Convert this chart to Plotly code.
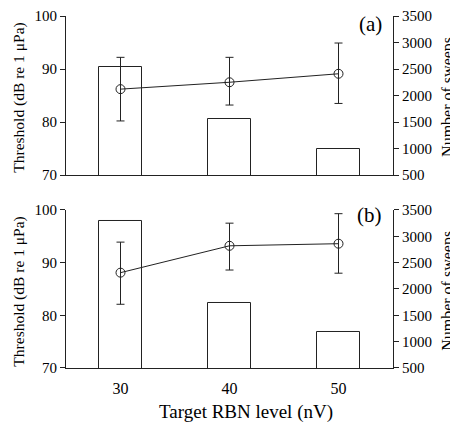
import plotly.graph_objects as go

# Data
levels = [30, 40, 50]
tick_labels = ["30", "40", "50"]

# Panel (a)
sweeps_a = [2530, 1550, 990]
thr_a = [86.2, 87.5, 89.1]
thr_a_up = [6.0, 4.7, 5.8]
thr_a_down = [6.0, 4.3, 5.6]

# Panel (b)
sweeps_b = [3300, 1730, 1190]
thr_b = [88.1, 93.2, 93.6]
thr_b_up = [5.8, 4.3, 5.7]
thr_b_down = [6.0, 4.6, 5.6]

FONT = "Liberation Serif"
AX = "#222222"
FS = 15

fig = go.Figure()

def add_panel(sweeps, thr, up, down, xa, ya_bar, ya_line):
    fig.add_trace(go.Bar(
        x=levels, y=sweeps, width=4,
        marker=dict(color="white", line=dict(color=AX, width=1)),
        xaxis=xa, yaxis=ya_bar, showlegend=False))
    fig.add_trace(go.Scatter(
        x=levels, y=thr, mode="lines+markers",
        line=dict(color=AX, width=1),
        marker=dict(symbol="circle-open", size=9, color=AX, line=dict(width=1)),
        error_y=dict(type="data", symmetric=False, array=up, arrayminus=down,
                     color=AX, thickness=1, width=4),
        xaxis=xa, yaxis=ya_line, showlegend=False))

add_panel(sweeps_a, thr_a, thr_a_up, thr_a_down, "x", "y", "y3")
add_panel(sweeps_b, thr_b, thr_b_up, thr_b_down, "x2", "y2", "y4")

top_dom = [0.5483, 1.0]
bot_dom = [0.0, 0.4489]

tf = dict(family=FONT, size=FS, color="black")

common_x = dict(range=[25, 55], showline=True, linecolor=AX, linewidth=1,
                ticks="outside", ticklen=6, tickcolor="rgba(0,0,0,0)",
                showgrid=False, zeroline=False, automargin=False,
                tickvals=levels, ticktext=tick_labels,
                tickfont=dict(family=FONT, size=16, color="black"))
sweep_ax = dict(range=[500, 3500], side="right", showline=True, linecolor=AX,
                linewidth=1, ticks="outside", ticklen=5, tickcolor=AX,
                tickvals=[500, 1000, 1500, 2000, 2500, 3000, 3500],
                showgrid=False, zeroline=False, automargin=False, tickfont=tf)
thr_ax = dict(range=[70, 100], side="left", showline=True, linecolor=AX,
              linewidth=1, ticks="outside", ticklen=5, tickcolor=AX,
              tickvals=[70, 80, 90, 100], showgrid=False, zeroline=False,
              automargin=False, tickfont=tf)

def ann(text, x, y, angle=0, size=FS, xanchor="center"):
    return dict(text=text, x=x, y=y, xref="paper", yref="paper",
                xanchor=xanchor, yanchor="middle", showarrow=False,
                textangle=angle, font=dict(family=FONT, size=size, color="black"))

# page body has an 8px margin, so the figure is 8px smaller and shifted
fig.update_layout(
    width=450, height=415,
    margin=dict(l=58, r=65, t=8, b=55, autoexpand=False),
    paper_bgcolor="white", plot_bgcolor="white",
    bargap=0,
    xaxis=dict(common_x, domain=[0, 1], anchor="y", showticklabels=False),
    xaxis2=dict(common_x, domain=[0, 1], anchor="y2"),
    yaxis=dict(sweep_ax, domain=top_dom, anchor="x"),
    yaxis2=dict(sweep_ax, domain=bot_dom, anchor="x2"),
    yaxis3=dict(thr_ax, domain=top_dom, anchor="x", overlaying="y"),
    yaxis4=dict(thr_ax, domain=bot_dom, anchor="x2", overlaying="y2"),
    annotations=[
        ann("(a)", 0.972, 0.977, size=21, xanchor="right"),
        ann("(b)", 0.972, 0.435, size=21, xanchor="right"),
        ann("Threshold (dB re 1 μPa)", -0.1437, 0.768, angle=-90, size=15.5),
        ann("Threshold (dB re 1 μPa)", -0.1437, 0.217, angle=-90, size=15.5),
        ann("Number of sweeps", 1.168, 0.770, angle=-90, size=16),
        ann("Number of sweeps", 1.168, 0.219, angle=-90, size=16),
        ann("Target RBN level (nV)", 0.549, -0.125, size=19),
    ],
)

fig.write_html("out.html")
